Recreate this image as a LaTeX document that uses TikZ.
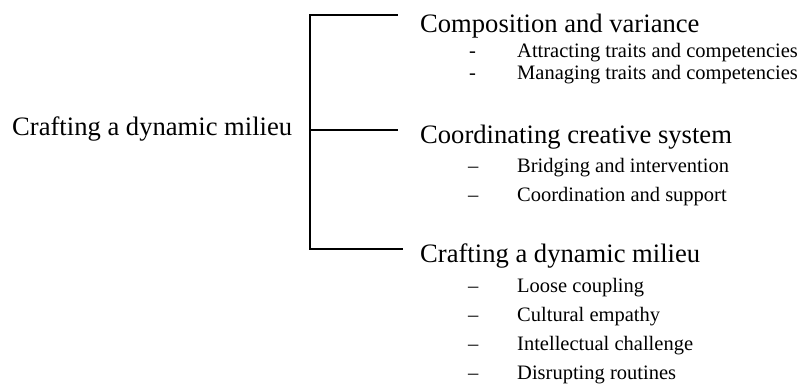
\documentclass[tikz,border=0pt]{standalone}
\usepackage{fontspec}
\setmainfont{Liberation Serif}
\begin{document}
\begin{tikzpicture}[x=1bp,y=-1bp,
  head/.style={anchor=base west,inner sep=0pt,font=\fontsize{26.6bp}{30bp}\selectfont},
  item/.style={anchor=base west,inner sep=0pt,font=\fontsize{20.5bp}{24bp}\selectfont},
  bullet dash/.style={anchor=base west,inner sep=0pt,font=\fontsize{20.5bp}{24bp}\selectfont},
  bracket/.style={line width=1.5bp,line cap=rect}]
\useasboundingbox (0,0) rectangle (811,387);

% root label
\node[head] (root) at (12,135) {Crafting a dynamic milieu};

% bracket joints
\coordinate (jt) at (310,15);
\coordinate (jm) at (310,130);
\coordinate (jb) at (310,249);
\coordinate (et) at (397,15);
\coordinate (em) at (397,130);
\coordinate (eb) at (402,249);
\draw[bracket] (et) -- (jt) -- (jb) -- (eb);
\draw[bracket] (jm) -- (em);

% first branch
\node[head] (h1) at (420,32) {Composition and variance};
\node[bullet dash] (d11) at (469,57) {-};
\node[item] (i11) at (517,57) {Attracting traits and competencies};
\node[bullet dash] (d12) at (469,79) {-};
\node[item] (i12) at (517,79) {Managing traits and competencies};

% second branch
\node[head] (h2) at (420,143) {Coordinating creative system};
\node[bullet dash] (d21) at (468,172) {–};
\node[item] (i21) at (517,172) {Bridging and intervention};
\node[bullet dash] (d22) at (468,201) {–};
\node[item] (i22) at (517,201) {Coordination and support};

% third branch
\node[head] (h3) at (420,262) {Crafting a dynamic milieu};
\node[bullet dash] (d31) at (468,292) {–};
\node[item] (i31) at (517,292) {Loose coupling};
\node[bullet dash] (d32) at (468,321) {–};
\node[item] (i32) at (517,321) {Cultural empathy};
\node[bullet dash] (d33) at (468,350) {–};
\node[item] (i33) at (517,350) {Intellectual challenge};
\node[bullet dash] (d34) at (468,379) {–};
\node[item] (i34) at (517,379) {Disrupting routines};
\end{tikzpicture}
\end{document}
